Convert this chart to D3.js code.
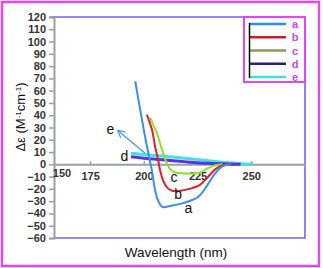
<!DOCTYPE html>
<html>
<head>
<meta charset="utf-8">
<script src="https://cdn.jsdelivr.net/npm/d3@7"></script>
<style>
  body { margin: 0; background: #fff; }
  svg { display: block; }
  .tick text { font-family: "Liberation Sans", Arial, sans-serif; font-weight: bold; font-size: 11px; fill: #333; }
</style>
</head>
<body>
<div id="chart"></div>
<script>
// wavelengths (nm) and delta-epsilon values for each sample
var wlA = [196, 198.3, 200.6, 202.5, 203.9, 205.3, 206.7, 208.6, 212.3, 217, 221.6, 225.4, 229.1, 232.8, 236.6, 240.3];
var valA = [67.7, 44.6, 22.3, 5.8, -6.6, -21.5, -29.7, -34.7, -33.9, -32.2, -29.7, -26.4, -18.2, -8.3, -1.7, 0];

var wlB = [201.4, 203.8, 205.3, 206.7, 207.6, 209, 210.9, 213.2, 217, 221.6, 226.3, 230, 233.8, 237.5, 241.2];
var valB = [40.5, 28.1, 14, 3.3, -5, -13.2, -19, -21.5, -21.5, -19.8, -16.5, -9.9, -3.3, -0.4, 0];

var wlC = [203, 204.4, 206.2, 208.1, 209.5, 210.9, 212.3, 214.6, 218.4, 223, 226.3, 229.6, 233.3, 236.6];
var valC = [38, 32.2, 24.8, 14, 6.6, 0, -4.1, -6.6, -7.4, -7.4, -6.6, -3.3, -0.8, 0];

var wlD = [194, 200, 210, 220, 230, 240, 245];
var valD = [6.2, 5, 3.5, 2, 0.8, 0.2, 0];

var wlE = [194, 200, 210, 220, 230, 240, 250];
var valE = [9, 8, 6.5, 4.8, 3, 1.3, 0];

var seriesNames = ["a", "b", "c", "d", "e"];
var lineColors = ["#3b8fe8", "#e0202c", "#8ee02c", "#5a34d8", "#40e0f0"];
var legendColors = ["#2f8ef0", "#d0182a", "#8a9a60", "#20208a", "#44dcf4"];

var yTicks = d3.range(-60, 121, 10);
var xTicks = [175, 200, 225, 250, 275];

var W = 323, H = 268;
var margin = {top: 17, right: 18, bottom: 30, left: 54};
var width = W - margin.left - margin.right,
    height = H - margin.top - margin.bottom;

var svg = d3.select("#chart").append("svg")
    .attr("width", W)
    .attr("height", H);

// outer magenta border
svg.append("rect")
    .attr("x", 2).attr("y", 2)
    .attr("width", W - 6).attr("height", H - 4)
    .attr("fill", "none")
    .attr("stroke", "#e048f0")
    .attr("stroke-width", 2.5);

var g = svg.append("g")
    .attr("transform", "translate(" + margin.left + "," + margin.top + ")");

var xScale = d3.scaleLinear().domain([158.2, 275]).range([0, width]);
var yScale = d3.scaleLinear().domain([-60, 120]).range([height, 0]);

// plot frame (top, right, bottom)
g.append("path")
    .attr("d", "M-4,0H" + width + "V" + height + "H0")
    .attr("fill", "none")
    .attr("stroke", "#7a62e8")
    .attr("stroke-width", 1.6);

// y axis
var yAxis = d3.axisLeft(yScale).tickValues(yTicks).tickSize(5).tickPadding(3);
var yg = g.append("g").attr("class", "y axis").call(yAxis);
yg.select(".domain").attr("stroke", "#9aa0a8").attr("stroke-width", 2);
yg.selectAll(".tick line").attr("stroke", "#9aa0a8").attr("stroke-width", 1.5);

// x axis sits at zero
var xAxis = d3.axisBottom(xScale).tickValues(xTicks).tickSizeInner(-3).tickSizeOuter(0).tickPadding(8)
    .tickFormat(function(d) { return d == 275 ? "" : d; });
var xg = g.append("g").attr("class", "x axis")
    .attr("transform", "translate(0," + yScale(0) + ")")
    .call(xAxis);
xg.select(".domain").attr("stroke", "#9aa0a8").attr("stroke-width", 2);
xg.selectAll(".tick line").attr("stroke", "#9aa0a8").attr("stroke-width", 1.5);

// the 150 label shown just inside the axis start
xg.append("text")
    .attr("x", 8).attr("y", 13)
    .attr("text-anchor", "middle")
    .style("font-family", "Liberation Sans, Arial, sans-serif")
    .style("font-weight", "bold")
    .style("font-size", "11px")
    .attr("fill", "#333")
    .text("150");

var line = d3.line()
    .x(function(d) { return xScale(d[0]); })
    .y(function(d) { return yScale(d[1]); })
    .curve(d3.curveCatmullRom);

var series = [
  {name: "e", wl: wlE, val: valE, color: lineColors[4], w: 3},
  {name: "d", wl: wlD, val: valD, color: lineColors[3], w: 3},
  {name: "c", wl: wlC, val: valC, color: lineColors[2], w: 2},
  {name: "b", wl: wlB, val: valB, color: lineColors[1], w: 2},
  {name: "a", wl: wlA, val: valA, color: lineColors[0], w: 2}
];

series.forEach(function(s) {
  var pts = s.wl.map(function(w, i) { return [w, s.val[i]]; });
  g.append("path")
    .datum(pts)
    .attr("d", line)
    .attr("fill", "none")
    .attr("stroke", s.color)
    .attr("stroke-width", s.w)
    .attr("stroke-linejoin", "round");
});

// arrow pointing at label e
svg.append("defs").append("marker")
    .attr("id", "arr")
    .attr("viewBox", "0 0 10 10")
    .attr("refX", 9).attr("refY", 5)
    .attr("markerWidth", 6).attr("markerHeight", 6)
    .attr("orient", "auto")
  .append("path")
    .attr("d", "M0,0L10,5L0,10")
    .attr("fill", "none")
    .attr("stroke", "#4a98ea")
    .attr("stroke-width", 1.5);

g.append("line")
    .attr("x1", xScale(200.6)).attr("y1", yScale(9.1))
    .attr("x2", xScale(188)).attr("y2", yScale(27.4))
    .attr("stroke", "#4a98ea")
    .attr("stroke-width", 1.3)
    .attr("marker-end", "url(#arr)");

// curve labels
var curveLabels = [
  {t: "e", w: 184.5, v: 25},
  {t: "d", w: 191, v: 3},
  {t: "c", w: 214, v: -14},
  {t: "b", w: 216, v: -28},
  {t: "a", w: 220.7, v: -40}
];
g.selectAll(".clabel")
    .data(curveLabels)
    .enter().append("text")
    .attr("class", "clabel")
    .attr("x", function(d) { return xScale(d.w); })
    .attr("y", function(d) { return yScale(d.v); })
    .attr("text-anchor", "middle")
    .style("font-family", "Liberation Sans, Arial, sans-serif")
    .style("font-size", "14px")
    .attr("fill", "#111")
    .text(function(d) { return d.t; });

// legend box
var leg = g.append("g").attr("transform", "translate(" + (width - 61) + ",0)");
leg.append("rect")
    .attr("x", 0).attr("y", 0)
    .attr("width", 61).attr("height", 65)
    .attr("fill", "#fff")
    .attr("stroke", "#e048f0")
    .attr("stroke-width", 2);
var legY = d3.scalePoint().domain(seriesNames).range([7, 60]);
leg.selectAll(".lline")
    .data(seriesNames)
    .enter().append("line")
    .attr("x1", 5).attr("x2", 42)
    .attr("y1", function(d) { return legY(d); })
    .attr("y2", function(d) { return legY(d); })
    .attr("stroke", function(d, i) { return legendColors[i]; })
    .attr("stroke-width", 2.5);
leg.append("line")
    .attr("x1", 5.5).attr("x2", 5.5)
    .attr("y1", 6).attr("y2", 61)
    .attr("stroke", "#000")
    .attr("stroke-width", 1.5);
leg.selectAll(".ltext")
    .data(seriesNames)
    .enter().append("text")
    .attr("x", 51)
    .attr("y", function(d) { return legY(d) + 4; })
    .attr("text-anchor", "middle")
    .style("font-family", "Liberation Sans, Arial, sans-serif")
    .style("font-weight", "bold")
    .style("font-size", "11px")
    .attr("fill", "#c848e8")
    .text(function(d) { return d; });

// axis titles
svg.append("text")
    .attr("transform", "translate(25,117) rotate(-90)")
    .attr("text-anchor", "middle")
    .style("font-family", "Liberation Sans, Arial, sans-serif")
    .style("font-size", "13px")
    .attr("fill", "#111")
    .html('\u0394\u03b5 (M<tspan baseline-shift="super" font-size="8px">-1</tspan>cm<tspan baseline-shift="super" font-size="8px">-1</tspan>)');

svg.append("text")
    .attr("x", 176).attr("y", 257)
    .attr("text-anchor", "middle")
    .style("font-family", "Liberation Sans, Arial, sans-serif")
    .style("font-size", "13.5px")
    .attr("fill", "#111")
    .text("Wavelength (nm)");
</script>
</body>
</html>
